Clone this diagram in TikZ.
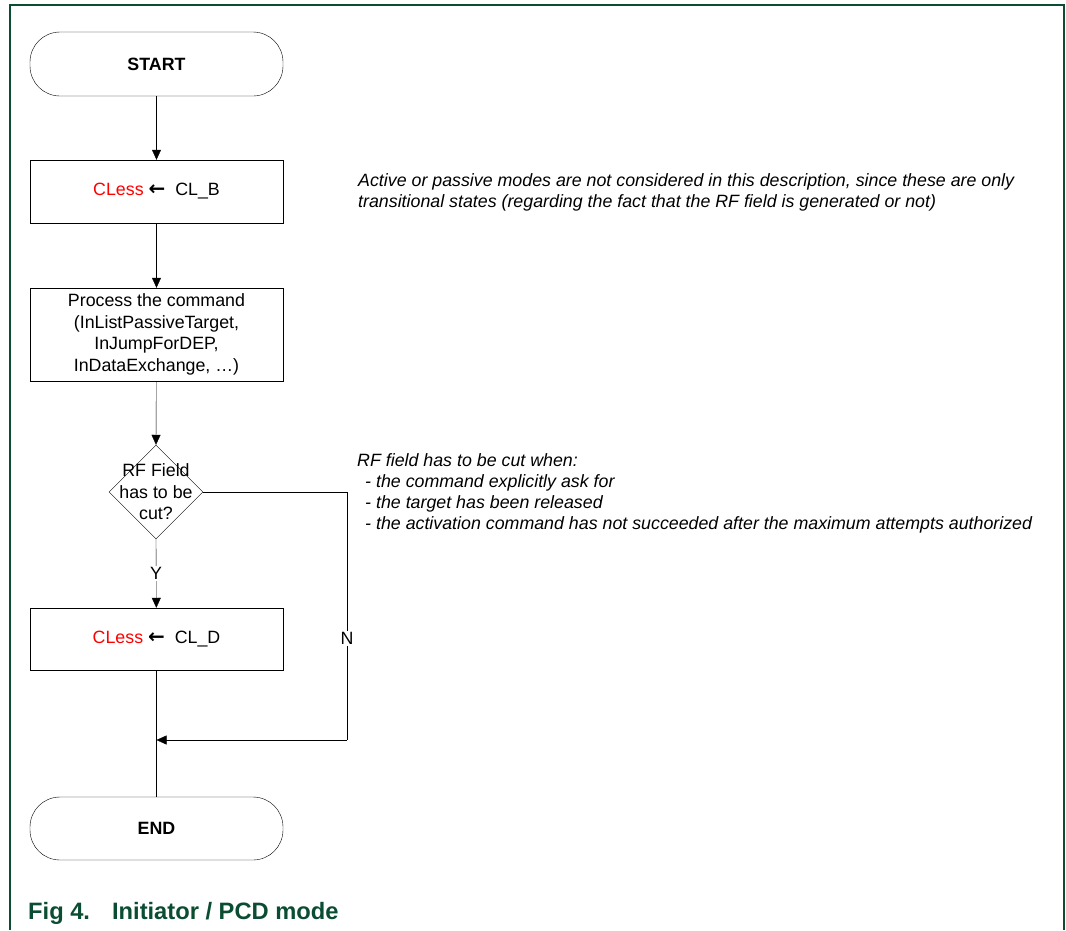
\documentclass[tikz,border=0pt]{standalone}
\usepackage{fontspec}
\setmainfont{Liberation Sans}
\newfontfamily\arrowfont{DejaVu Sans}
\usetikzlibrary{shapes.geometric,arrows.meta}
\definecolor{nxpgreen}{HTML}{0B4D33}
\definecolor{clred}{HTML}{FF0000}
\tikzset{
  every node/.style={font=\fontsize{17.8}{21.5}\selectfont},
  boxnode/.style={draw, thin, minimum width=253pt, inner sep=0pt, align=center},
  termnode/.style={boxnode, rounded corners=30pt, minimum height=64pt, font=\fontsize{17.8}{21.5}\selectfont\bfseries},
  decnode/.style={draw, thin, diamond, minimum width=94pt, minimum height=94pt, inner sep=0pt},
  arr/.style={thin, -{Triangle[length=10pt,width=9pt]}},
  lbl/.style={fill=white, inner sep=1.5pt},
  note/.style={anchor=north west, align=left, inner sep=0pt, font=\fontsize{17.8}{21}\selectfont\itshape},
  framecol/.style={draw=nxpgreen, line width=1.3pt},
}
\newcommand{\clarrow}{{\arrowfont\bfseries\fontsize{20}{21.5}\selectfont ←}}
\begin{document}
\begin{tikzpicture}[x=1pt,y=-1pt]
\useasboundingbox (0,0) rectangle (1066,930);
% frame
\draw[framecol] (10,930) -- (10,5) -- (1064,5) -- (1064,930);
% nodes
\node[termnode] (start) at (156.5,64) {START};
\node[boxnode, minimum height=63pt] (clb) at (156.5,191.5) {\textcolor{clred}{CLess} \clarrow\ \ CL\_B};
\node[boxnode, minimum height=93pt] (proc) at (156.5,334.5) {Process the command\\(InListPassiveTarget,\\InJumpForDEP,\\InDataExchange, \dots)};
\node[decnode] (dec) at (156,492) {};
\node[inner sep=0pt, align=center] (dectxt) at (156,492) {RF Field\\has to be\\cut?};
\node[boxnode, minimum height=62pt] (cld) at (156.5,639) {\textcolor{clred}{CLess} \clarrow\ \ CL\_D};
\node[termnode, minimum height=63pt] (end) at (156.5,828.5) {END};
\coordinate (ncorner1) at (347,492);
\coordinate (ncorner2) at (347,740);
\coordinate (join) at (156.5,740);
% connectors
\draw[arr] (start) -- (clb);
\draw[arr] (clb) -- (proc);
\draw[arr] (proc) -- (dec.north);
\draw[arr] (dec.south) -- node[lbl] (ylab) {Y} (cld);
\draw[thin] (cld) -- (end);
\draw[thin] (dec.east) -- (ncorner1) -- node[lbl, pos=0.59] (nlab) {N} (ncorner2);
\draw[arr] (ncorner2) -- (join);
% notes
\node[note] (note1) at (358,173) {Active or passive modes are not considered in this description, since these are only\\transitional states (regarding the fact that the RF field is generated or not)};
\node[note] (note2) at (357,453) {RF field has to be cut when:\\\hspace*{8pt}- the command explicitly ask for\\\hspace*{8pt}- the target has been released\\\hspace*{8pt}- the activation command has not succeeded after the maximum attempts authorized};
% caption
\node[anchor=base west, inner sep=0pt, text=nxpgreen, font=\fontsize{23.7}{26}\selectfont\bfseries] (caption) at (28,919) {Fig 4.\hspace{22pt}Initiator / PCD mode};
\end{tikzpicture}
\end{document}
